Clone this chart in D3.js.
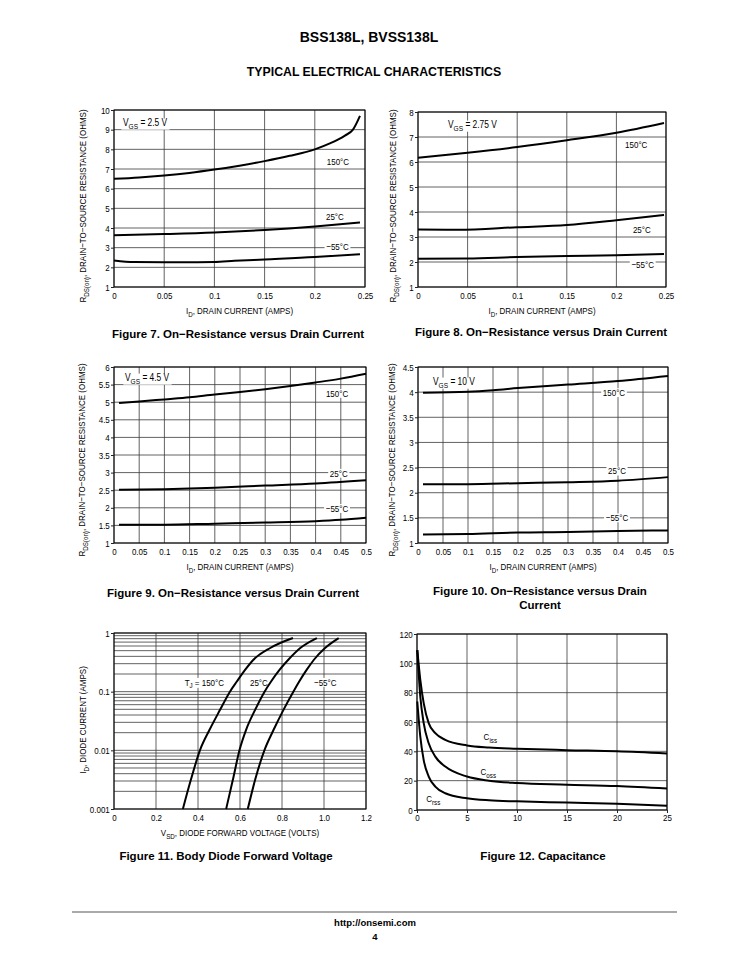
<!DOCTYPE html>
<html>
<head>
<meta charset="utf-8">
<script src="https://cdn.jsdelivr.net/npm/d3@7"></script>
<style>
  body { margin: 0; background: #fff; }
  text { font-family: "Liberation Sans", Arial, Helvetica, sans-serif; fill: #000; }
  text.bold { font-weight: bold; }
</style>
</head>
<body>
<svg id="page" width="750" height="970"></svg>
<script>
var svg = d3.select("#page"),
    NARROW = 0.84;   // no narrow face installed, so squeeze Liberation Sans

// ---- data ----
var RES_X_TICKS = [0, 0.05, 0.1, 0.15, 0.2, 0.25],
    RES_X_LABELS = ["0", "0.05", "0.1", "0.15", "0.2", "0.25"],
    WIDE_X_TICKS = [0, 0.05, 0.1, 0.15, 0.2, 0.25, 0.3, 0.35, 0.4, 0.45, 0.5],
    WIDE_X_LABELS = ["0", "0.05", "0.1", "0.15", "0.2", "0.25", "0.3", "0.35", "0.4", "0.45", "0.5"];

// Figure 7, VGS = 2.5 V
var f7YTicks = [1, 2, 3, 4, 5, 6, 7, 8, 9, 10],
    f7Hot = [[0, 6.5], [0.025, 6.57], [0.05, 6.67], [0.075, 6.8], [0.1, 6.97], [0.125, 7.17], [0.15, 7.4], [0.175, 7.67], [0.2, 8.0], [0.215, 8.3], [0.23, 8.7], [0.238, 9.0], [0.245, 9.7]],
    f7Room = [[0, 3.63], [0.05, 3.69], [0.1, 3.77], [0.15, 3.9], [0.2, 4.08], [0.245, 4.28]],
    f7Cold = [[0, 2.35], [0.02, 2.27], [0.05, 2.26], [0.1, 2.27], [0.12, 2.33], [0.15, 2.4], [0.2, 2.52], [0.245, 2.67]];

// Figure 8, VGS = 2.75 V
var f8YTicks = [1, 2, 3, 4, 5, 6, 7, 8],
    f8Hot = [[0, 6.17], [0.05, 6.37], [0.1, 6.6], [0.15, 6.87], [0.2, 7.17], [0.248, 7.56]],
    f8Room = [[0, 3.3], [0.04, 3.29], [0.1, 3.39], [0.15, 3.48], [0.2, 3.67], [0.248, 3.88]],
    f8Cold = [[0, 2.13], [0.05, 2.14], [0.1, 2.2], [0.15, 2.24], [0.2, 2.27], [0.248, 2.32]];

// Figure 9, VGS = 4.5 V
var f9YTicks = [1, 1.5, 2, 2.5, 3, 3.5, 4, 4.5, 5, 5.5, 6],
    f9YLabels = ["1", "1.5", "2", "2.5", "3", "3.5", "4", "4.5", "5", "5.5", "6"],
    f9Hot = [[0.01, 4.98], [0.05, 5.02], [0.1, 5.08], [0.15, 5.14], [0.2, 5.22], [0.25, 5.29], [0.3, 5.37], [0.35, 5.46], [0.4, 5.56], [0.45, 5.67], [0.5, 5.81]],
    f9Room = [[0.01, 2.51], [0.1, 2.53], [0.2, 2.57], [0.3, 2.63], [0.4, 2.69], [0.5, 2.78]],
    f9Cold = [[0.01, 1.52], [0.1, 1.52], [0.2, 1.55], [0.3, 1.58], [0.4, 1.62], [0.45, 1.66], [0.5, 1.72]];

// Figure 10, VGS = 10 V
var f10YTicks = [1, 1.5, 2, 2.5, 3, 3.5, 4, 4.5],
    f10YLabels = ["1", "1.5", "2", "2.5", "3", "3.5", "4", "4.5"],
    f10Hot = [[0.01, 3.99], [0.1, 4.01], [0.15, 4.04], [0.2, 4.08], [0.3, 4.15], [0.4, 4.22], [0.5, 4.32]],
    f10Room = [[0.01, 2.17], [0.1, 2.17], [0.2, 2.19], [0.3, 2.21], [0.4, 2.24], [0.5, 2.31]],
    f10Cold = [[0.01, 1.17], [0.1, 1.18], [0.2, 1.21], [0.3, 1.22], [0.4, 1.24], [0.5, 1.25]];

// Figure 11, body diode (log current)
var f11XTicks = [0, 0.2, 0.4, 0.6, 0.8, 1.0, 1.2],
    f11XLabels = ["0", "0.2", "0.4", "0.6", "0.8", "1.0", "1.2"],
    f11YTicks = [0.001, 0.01, 0.1, 1],
    f11YLabels = ["0.001", "0.01", "0.1", "1"],
    f11Hot = [[0.328, 0.001], [0.366, 0.00314], [0.41, 0.0102], [0.455, 0.0224], [0.505, 0.049], [0.552, 0.1], [0.585, 0.149], [0.625, 0.237], [0.664, 0.35], [0.744, 0.555], [0.852, 0.82]],
    f11Room = [[0.534, 0.001], [0.566, 0.00314], [0.598, 0.0102], [0.629, 0.0224], [0.672, 0.049], [0.717, 0.1], [0.748, 0.149], [0.789, 0.237], [0.83, 0.35], [0.887, 0.555], [0.966, 0.82]],
    f11Cold = [[0.637, 0.001], [0.672, 0.00314], [0.717, 0.0102], [0.76, 0.0224], [0.807, 0.049], [0.854, 0.1], [0.882, 0.149], [0.918, 0.237], [0.952, 0.35], [1.005, 0.555], [1.07, 0.82]];

// Figure 12, capacitance
var f12XTicks = [0, 5, 10, 15, 20, 25],
    f12YTicks = [0, 20, 40, 60, 80, 100, 120],
    f12Ciss = [[0.03, 109], [0.33, 88.8], [0.67, 72.9], [1.17, 59.2], [1.83, 52.4], [2.83, 47.8], [5, 44], [7.2, 42.6], [10, 41.8], [15, 40.8], [20, 40], [25, 38.5]],
    f12Coss = [[0.03, 109], [0.33, 77.4], [0.67, 59.2], [1.17, 45.5], [1.83, 36.4], [2.83, 29.6], [5, 22.8], [7.2, 20], [10, 18.4], [15, 17.3], [20, 16.3], [25, 14.6]],
    f12Crss = [[0.03, 74], [0.33, 50], [0.67, 34], [1.17, 22.8], [1.83, 16], [2.83, 11.4], [5, 8], [7.2, 6.6], [10, 5.9], [15, 5.1], [20, 4.3], [25, 2.9]];

var TEMPS = ["150°C", "25°C", "−55°C"];

// ---- helpers ----
// squeezed text placed at (x, y); parts = [main, subscript, rest] or a plain string
function narrowText(parent, x, y, size, parts, opts) {
  opts = opts || {};
  var g = parent.append("g")
      .attr("transform", "translate(" + x + "," + y + ")" + (opts.rotate ? " rotate(-90)" : "") + " scale(" + NARROW + ",1)");
  var t = g.append("text").attr("font-size", size)
      .attr("text-anchor", opts.anchor || "middle")
      .attr("dominant-baseline", opts.baseline || "auto");
  if (typeof parts === "string") {
    t.text(parts);
  } else {
    t.append("tspan").text(parts[0]);
    t.append("tspan").attr("font-size", size * 0.78).attr("dy", size * 0.28).text(parts[1]);
    if (parts[2]) t.append("tspan").attr("dy", -size * 0.28).text(parts[2]);
  }
  if (opts.bg) {
    var b = t.node().getBBox();
    g.insert("rect", "text")
      .attr("x", b.x - 2).attr("y", b.y + 1).attr("width", b.width + 4).attr("height", b.height - 2)
      .attr("fill", "#fff");
  }
  return g;
}

function drawChart(c) {
  var g = svg.append("g");
  var x = d3.scaleLinear().domain(c.xDomain).range([c.left, c.right]);
  var y = (c.log ? d3.scaleLog() : d3.scaleLinear()).domain(c.yDomain).range([c.bottom, c.top]);
  var yGrid = c.log ? y.ticks() : c.yTicks;

  g.append("g").selectAll("line").data(c.xTicks).join("line")
      .attr("x1", d => x(d)).attr("x2", d => x(d))
      .attr("y1", c.top).attr("y2", c.bottom)
      .attr("stroke", "#3a3a3a").attr("stroke-width", 0.8);
  g.append("g").selectAll("line").data(yGrid).join("line")
      .attr("x1", c.left).attr("x2", c.right)
      .attr("y1", d => y(d)).attr("y2", d => y(d))
      .attr("stroke", "#3a3a3a").attr("stroke-width", 0.8);

  // curve labels sit on white boxes that break the grid
  (c.labels || []).forEach(function(l) {
    narrowText(g, x(l.at[0]), y(l.at[1]), 9.5, l.text, {baseline: "central", bg: true});
  });
  if (c.note) narrowText(g, c.note.x, c.note.y, 10, c.note.parts, {anchor: "start", baseline: "central", bg: true});

  var line = d3.line().x(d => x(d[0])).y(d => y(d[1])).curve(d3.curveMonotoneX);
  c.series.forEach(function(s) {
    g.append("path").datum(s).attr("d", line)
      .attr("fill", "none").attr("stroke", "#000").attr("stroke-width", 2);
  });

  g.append("rect")
      .attr("x", c.left).attr("y", c.top)
      .attr("width", c.right - c.left).attr("height", c.bottom - c.top)
      .attr("fill", "none").attr("stroke", "#000").attr("stroke-width", 1);

  var xAxis = g.append("g")
      .attr("transform", "translate(0," + c.bottom + ")")
      .call(d3.axisBottom(x).tickValues(c.xTicks)
        .tickFormat((d, i) => c.xLabels[i]).tickSize(c.xTickSize || 0).tickPadding(c.xTickSize ? 1.5 : 5));
  var yAxis = g.append("g")
      .attr("transform", "translate(" + c.left + ",0)")
      .call(d3.axisLeft(y).tickValues(c.yTicks)
        .tickFormat((d, i) => c.yLabels[i]).tickSize(3).tickPadding(2));
  [xAxis, yAxis].forEach(function(a) {
    a.select(".domain").remove();
    a.selectAll("text").attr("font-size", 9.5).attr("font-family", null).attr("fill", "#000")
      .attr("transform", "scale(" + NARROW + ",1)");
    a.selectAll("line").attr("stroke", "#222");
  });

  if (c.xTitle) narrowText(g, c.xTitleX || (c.left + c.right) / 2, c.bottom + 27, 9.5, c.xTitle);
  if (c.yTitle) narrowText(g, c.yTitleX, c.yTitleY, 9.5, c.yTitle, {rotate: true});

  var cap = svg.append("text").attr("class", "bold")
      .attr("x", c.capX).attr("y", c.capY)
      .attr("text-anchor", "middle").attr("font-size", 11.5);
  c.caption.forEach(function(s, i) {
    cap.append("tspan").attr("x", c.capX).attr("dy", i ? 14 : 0).text(s);
  });
}

var RDS_TITLE = ["R", "DS(on)", ", DRAIN−TO−SOURCE RESISTANCE (OHMS)"],
    ID_TITLE = ["I", "D", ", DRAIN CURRENT (AMPS)"];

// ---- page header ----
svg.append("text").attr("class", "bold").attr("x", 369).attr("y", 42)
    .attr("text-anchor", "middle").attr("font-size", 14).text("BSS138L, BVSS138L");
svg.append("text").attr("class", "bold").attr("x", 374).attr("y", 76)
    .attr("text-anchor", "middle").attr("font-size", 12.3).text("TYPICAL ELECTRICAL CHARACTERISTICS");

drawChart({
  left: 114, right: 365, top: 110, bottom: 287,
  xDomain: [0, 0.25], yDomain: [1, 10],
  xTicks: RES_X_TICKS, xLabels: RES_X_LABELS, yTicks: f7YTicks, yLabels: f7YTicks.map(String),
  series: [f7Hot, f7Room, f7Cold],
  labels: [{text: TEMPS[0], at: [0.223, 7.37]}, {text: TEMPS[1], at: [0.22, 4.57]}, {text: TEMPS[2], at: [0.2226, 3.05]}],
  note: {x: 123, y: 123, parts: ["V", "GS", " = 2.5  V"]},
  xTitle: ID_TITLE, yTitle: RDS_TITLE, yTitleX: 86, yTitleY: 206,
  caption: ["Figure 7. On−Resistance versus Drain Current"], capX: 238, capY: 338
});

drawChart({
  left: 418, right: 666, top: 112, bottom: 287,
  xDomain: [0, 0.25], yDomain: [1, 8],
  xTicks: RES_X_TICKS, xLabels: RES_X_LABELS, yTicks: f8YTicks, yLabels: f8YTicks.map(String),
  series: [f8Hot, f8Room, f8Cold],
  labels: [{text: TEMPS[0], at: [0.22, 6.69]}, {text: TEMPS[1], at: [0.2256, 3.3]}, {text: TEMPS[2], at: [0.2265, 1.9]}],
  note: {x: 448, y: 125, parts: ["V", "GS", " = 2.75 V"]},
  xTitle: ID_TITLE, yTitle: RDS_TITLE, yTitleX: 396, yTitleY: 206,
  caption: ["Figure 8. On−Resistance versus Drain Current"], capX: 541, capY: 336
});

drawChart({
  left: 114, right: 366, top: 367, bottom: 543,
  xDomain: [0, 0.5], yDomain: [1, 6],
  xTicks: WIDE_X_TICKS, xLabels: WIDE_X_LABELS, yTicks: f9YTicks, yLabels: f9YLabels,
  series: [f9Hot, f9Room, f9Cold],
  labels: [{text: TEMPS[0], at: [0.4425, 5.25]}, {text: TEMPS[1], at: [0.446, 2.98]}, {text: TEMPS[2], at: [0.4425, 1.98]}],
  note: {x: 125, y: 378, parts: ["V", "GS", " = 4.5  V"]},
  xTitle: ID_TITLE, yTitle: RDS_TITLE, yTitleX: 85, yTitleY: 460,
  caption: ["Figure 9. On−Resistance versus Drain Current"], capX: 233, capY: 597
});

drawChart({
  left: 418, right: 668, top: 367, bottom: 543,
  xDomain: [0, 0.5], yDomain: [1, 4.5],
  xTicks: WIDE_X_TICKS, xLabels: WIDE_X_LABELS, yTicks: f10YTicks, yLabels: f10YLabels,
  series: [f10Hot, f10Room, f10Cold],
  labels: [{text: TEMPS[0], at: [0.392, 3.99]}, {text: TEMPS[1], at: [0.398, 2.43]}, {text: TEMPS[2], at: [0.398, 1.5]}],
  note: {x: 433, y: 382, parts: ["V", "GS", " = 10 V"]},
  xTitle: ID_TITLE, yTitle: RDS_TITLE, yTitleX: 395, yTitleY: 460,
  caption: ["Figure 10. On−Resistance versus Drain", "Current"], capX: 540, capY: 595
});

drawChart({
  left: 114, right: 366, top: 633, bottom: 809, log: true,
  xDomain: [0, 1.2], yDomain: [0.001, 1],
  xTicks: f11XTicks, xLabels: f11XLabels, yTicks: f11YTicks, yLabels: f11YLabels,
  series: [f11Hot, f11Room, f11Cold],
  labels: [{text: ["T", "J", " = 150°C"], at: [0.43, 0.144]}, {text: TEMPS[1], at: [0.69, 0.144]}, {text: TEMPS[2], at: [1.006, 0.144]}],
  xTitle: ["V", "SD", ", DIODE FORWARD VOLTAGE (VOLTS)"],
  yTitle: ["I", "D", ", DIODE CURRENT (AMPS)"], yTitleX: 86, yTitleY: 720,
  caption: ["Figure 11. Body Diode Forward Voltage"], capX: 226, capY: 860
});

drawChart({
  left: 417, right: 667, top: 634, bottom: 810,
  xDomain: [0, 25], yDomain: [0, 120], xTickSize: 3,
  xTicks: f12XTicks, xLabels: f12XTicks.map(String), yTicks: f12YTicks, yLabels: f12YTicks.map(String),
  series: [f12Ciss, f12Coss, f12Crss],
  labels: [{text: ["C", "iss", ""], at: [7.33, 49.9]}, {text: ["C", "oss", ""], at: [7.13, 26]}, {text: ["C", "rss", ""], at: [1.63, 7.5]}],
  caption: ["Figure 12. Capacitance"], capX: 543, capY: 860
});

// ---- footer ----
svg.append("line").attr("x1", 72).attr("x2", 677).attr("y1", 912).attr("y2", 912)
    .attr("stroke", "#aaa").attr("stroke-width", 2);
svg.append("text").attr("class", "bold").attr("x", 375).attr("y", 926)
    .attr("text-anchor", "middle").attr("font-size", 9.5).text("http://onsemi.com");
svg.append("text").attr("class", "bold").attr("x", 375).attr("y", 940)
    .attr("text-anchor", "middle").attr("font-size", 9.5).text("4");
</script>
</body>
</html>
